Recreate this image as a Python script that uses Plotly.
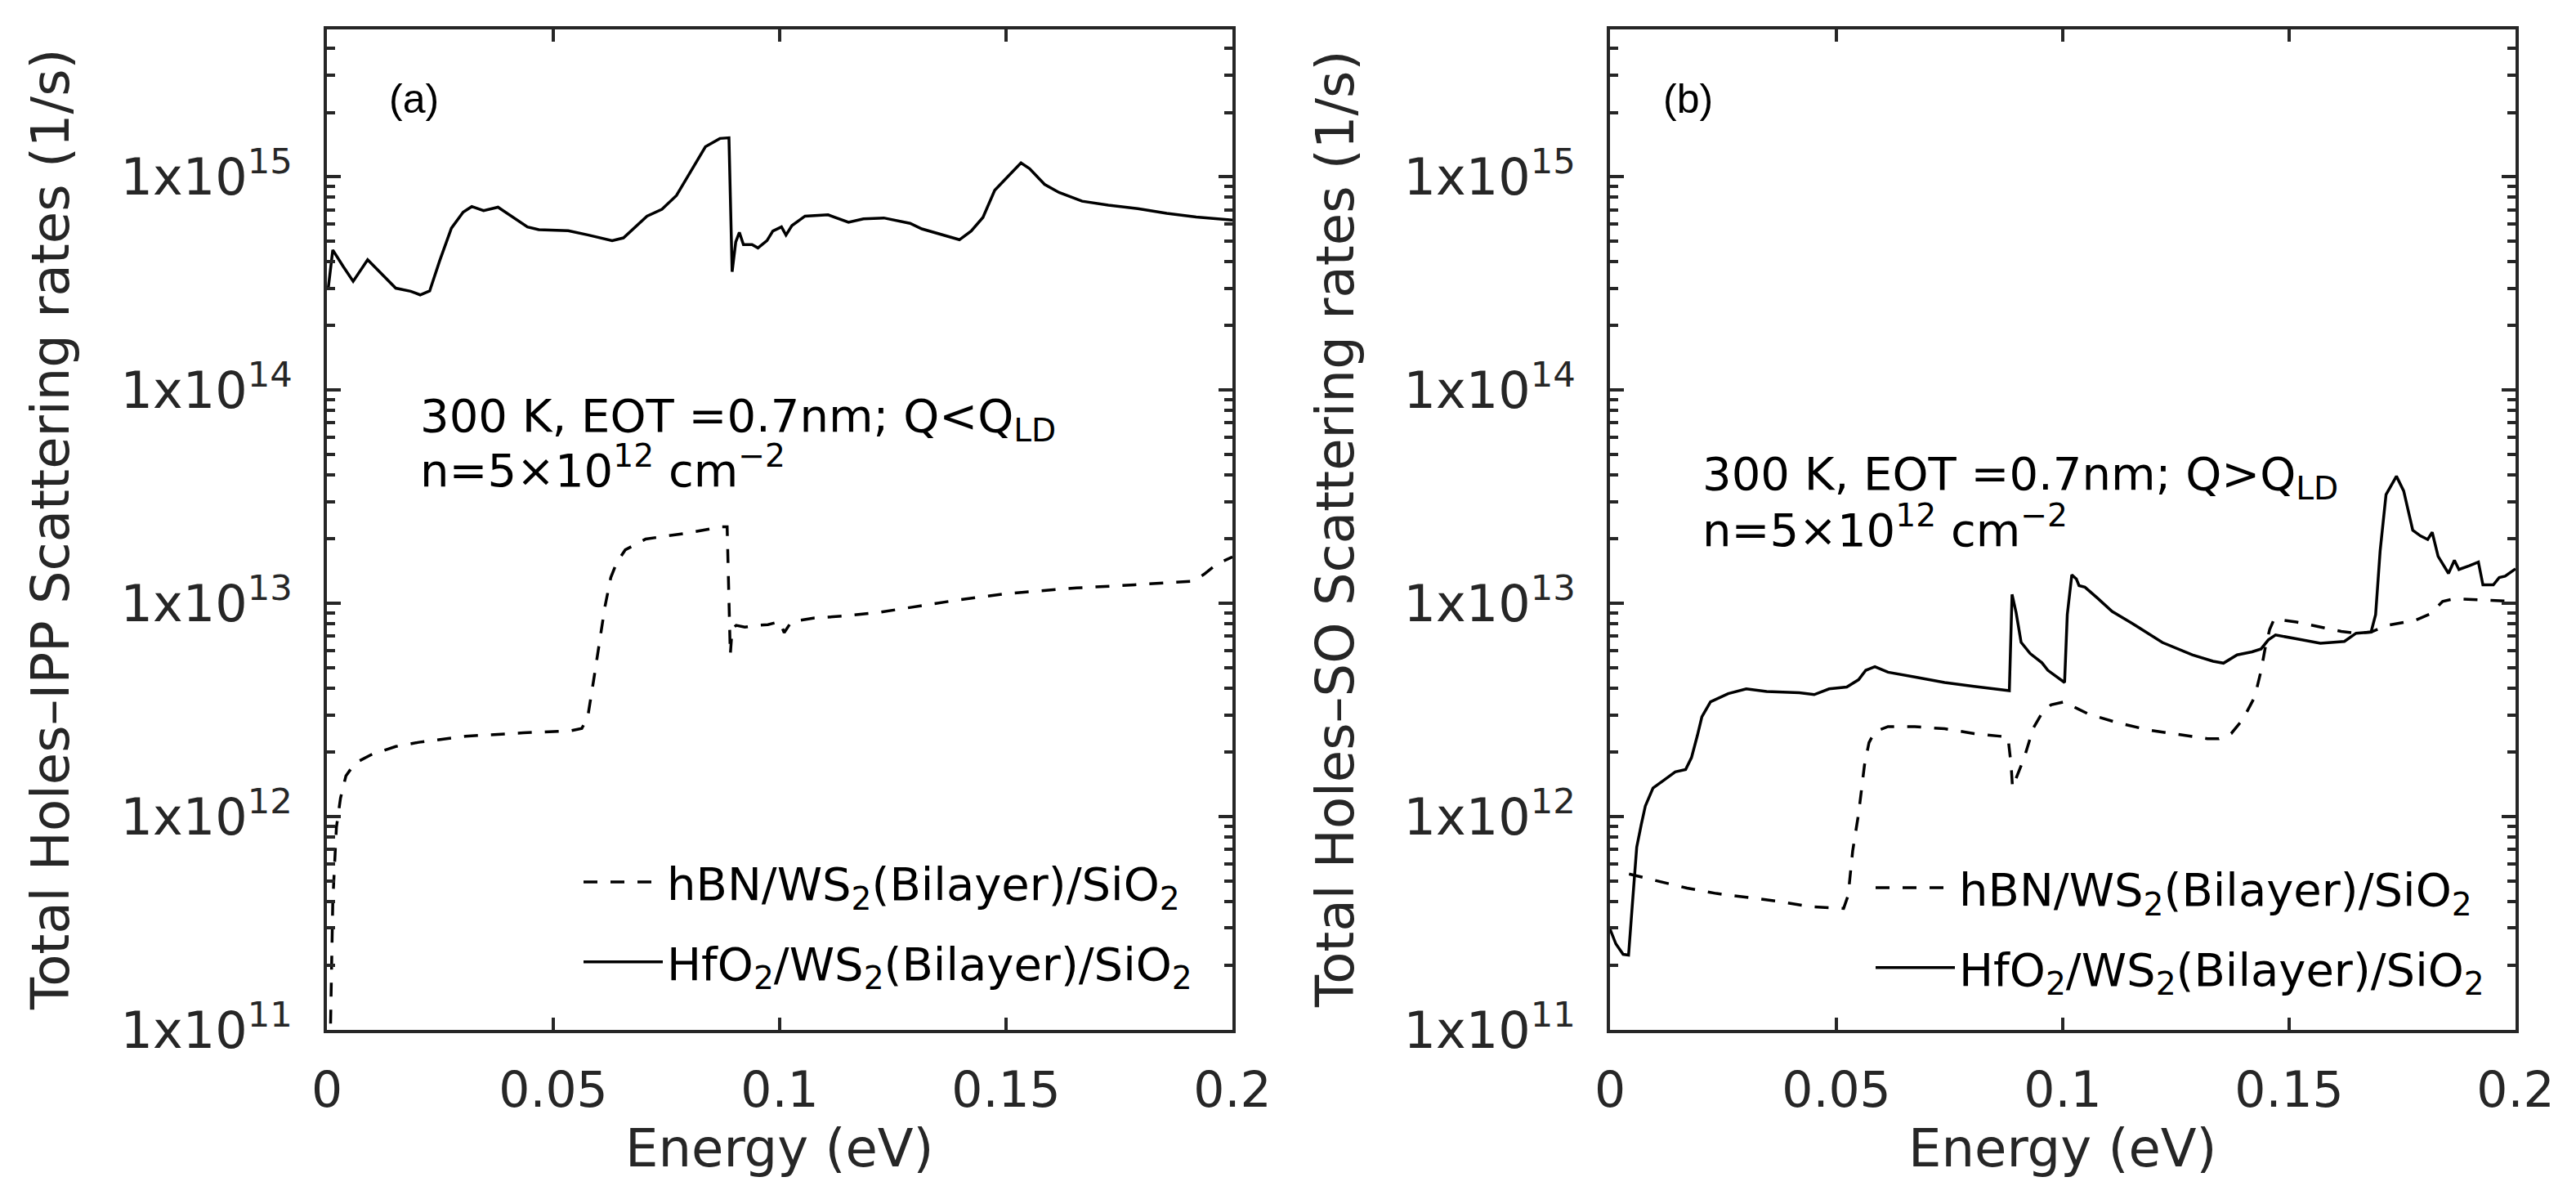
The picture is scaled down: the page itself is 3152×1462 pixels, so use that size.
import plotly.graph_objects as go

# (a) holes - IPP scattering rates (1/s) vs energy (eV)
e_ipp_hfo2 = [0.0003, 0.0013, 0.0036, 0.0058, 0.0090, 0.0114, 0.0152, 0.0185, 0.0206, 0.0227,
              0.0249, 0.0275, 0.0301, 0.0320, 0.0346, 0.0378, 0.0404, 0.0443, 0.0468, 0.0533,
              0.0578, 0.0630, 0.0655, 0.0707, 0.0740, 0.0772, 0.0804, 0.0836, 0.0868, 0.0888,
              0.0895, 0.0903, 0.0911, 0.0920, 0.0939, 0.0952, 0.0972, 0.0985, 0.1004, 0.1014,
              0.1027, 0.1056, 0.1107, 0.1152, 0.1185, 0.1230, 0.1288, 0.1314, 0.1397, 0.1423,
              0.1449, 0.1475, 0.1501, 0.1533, 0.1552, 0.1585, 0.1617, 0.1668, 0.1726, 0.1791,
              0.1855, 0.1920, 0.2000]
r_ipp_hfo2 = [3.00e14, 4.53e14, 3.79e14, 3.23e14, 4.08e14, 3.63e14, 3.00e14, 2.90e14, 2.79e14, 2.91e14,
              4.03e14, 5.73e14, 6.82e14, 7.24e14, 6.93e14, 7.19e14, 6.62e14, 5.81e14, 5.64e14, 5.58e14,
              5.32e14, 5.01e14, 5.16e14, 6.53e14, 7.03e14, 8.15e14, 1.06e15, 1.38e15, 1.51e15, 1.52e15,
              3.58e14, 4.94e14, 5.48e14, 4.80e14, 4.80e14, 4.63e14, 5.01e14, 5.56e14, 5.81e14, 5.32e14,
              5.89e14, 6.53e14, 6.62e14, 6.11e14, 6.34e14, 6.40e14, 6.04e14, 5.69e14, 5.06e14, 5.56e14,
              6.44e14, 8.63e14, 9.86e14, 1.16e15, 1.09e15, 9.20e14, 8.43e14, 7.67e14, 7.35e14, 7.08e14,
              6.73e14, 6.47e14, 6.25e14]

e_ipp_hbn = [0.0007, 0.0013, 0.0021, 0.0030, 0.0042, 0.0062, 0.0100, 0.0152, 0.0203, 0.0306,
             0.0434, 0.0537, 0.0563, 0.0576, 0.0589, 0.0602, 0.0614, 0.0627, 0.0640, 0.0659,
             0.0704, 0.0800, 0.0870, 0.0884, 0.0891, 0.0895, 0.0904, 0.0923, 0.0949, 0.0974,
             0.1000, 0.1010, 0.1026, 0.1077, 0.1141, 0.1219, 0.1270, 0.1399, 0.1501, 0.1656,
             0.1784, 0.1913, 0.1938, 0.1964, 0.2000]
r_ipp_hbn = [0.8e11, 4.0e11, 8.9e11, 1.22e12, 1.55e12, 1.78e12, 1.96e12, 2.13e12, 2.23e12, 2.38e12,
             2.47e12, 2.52e12, 2.59e12, 2.92e12, 4.34e12, 6.46e12, 9.61e12, 1.32e13, 1.55e13, 1.78e13,
             2.00e13, 2.14e13, 2.28e13, 2.28e13, 5.74e12, 7.57e12, 7.88e12, 7.73e12, 7.88e12, 7.94e12,
             8.20e12, 7.28e12, 8.20e12, 8.53e12, 8.71e12, 9.06e12, 9.42e12, 1.04e13, 1.11e13, 1.18e13,
             1.22e13, 1.27e13, 1.37e13, 1.52e13, 1.65e13]

# (b) holes - SO scattering rates (1/s) vs energy (eV)
e_so_hfo2 = [0.0000, 0.0013, 0.0029, 0.0041, 0.0049, 0.0059, 0.0069, 0.0078, 0.0095, 0.0118,
             0.0144, 0.0167, 0.0180, 0.0193, 0.0203, 0.0222, 0.0261, 0.0301, 0.0346, 0.0418,
             0.0451, 0.0484, 0.0523, 0.0549, 0.0565, 0.0585, 0.0614, 0.0673, 0.0739, 0.0804,
             0.0882, 0.0888, 0.0897, 0.0908, 0.0928, 0.0954, 0.0967, 0.1004, 0.1010, 0.1020,
             0.1030, 0.1036, 0.1049, 0.1076, 0.1109, 0.1155, 0.1220, 0.1286, 0.1332, 0.1355,
             0.1385, 0.1418, 0.1438, 0.1454, 0.1470, 0.1516, 0.1569, 0.1622, 0.1648, 0.1681,
             0.1691, 0.1701, 0.1714, 0.1737, 0.1753, 0.1773, 0.1790, 0.1806, 0.1816, 0.1829,
             0.1852, 0.1865, 0.1875, 0.1898, 0.1918, 0.1928, 0.1951, 0.1964, 0.1977, 0.2000]
r_so_hfo2 = [2.97e11, 2.53e11, 2.26e11, 2.24e11, 3.78e11, 7.19e11, 9.16e11, 1.12e12, 1.36e12, 1.48e12,
             1.62e12, 1.66e12, 1.89e12, 2.40e12, 2.94e12, 3.45e12, 3.77e12, 3.97e12, 3.86e12, 3.81e12,
             3.73e12, 3.97e12, 4.05e12, 4.38e12, 4.85e12, 5.04e12, 4.75e12, 4.51e12, 4.25e12, 4.08e12,
             3.89e12, 1.10e13, 9.04e12, 6.56e12, 5.81e12, 5.26e12, 4.85e12, 4.25e12, 8.85e12, 1.36e13,
             1.30e13, 1.21e13, 1.19e13, 1.06e13, 9.15e12, 8.01e12, 6.55e12, 5.73e12, 5.35e12, 5.24e12,
             5.73e12, 5.92e12, 6.11e12, 6.73e12, 7.10e12, 6.81e12, 6.49e12, 6.62e12, 7.24e12, 7.33e12,
             8.85e12, 1.76e13, 3.23e13, 3.94e13, 3.36e13, 2.20e13, 2.07e13, 1.99e13, 2.15e13, 1.66e13,
             1.38e13, 1.59e13, 1.44e13, 1.50e13, 1.56e13, 1.22e13, 1.22e13, 1.32e13, 1.34e13, 1.45e13]

e_so_hbn = [0.0042, 0.0105, 0.0170, 0.0235, 0.0301, 0.0366, 0.0444, 0.0516, 0.0526, 0.0536,
            0.0549, 0.0562, 0.0572, 0.0585, 0.0614, 0.0673, 0.0739, 0.0804, 0.0879, 0.0886,
            0.0889, 0.0899, 0.0915, 0.0935, 0.0954, 0.0974, 0.1003, 0.1013, 0.1056, 0.1122,
            0.1188, 0.1253, 0.1319, 0.1345, 0.1372, 0.1398, 0.1424, 0.1438, 0.1447, 0.1457,
            0.1467, 0.1516, 0.1582, 0.1615, 0.1648, 0.1681, 0.1714, 0.1780, 0.1812, 0.1839,
            0.1865, 0.1911, 0.2000]
r_so_hbn = [5.38e11, 5.01e11, 4.62e11, 4.36e11, 4.18e11, 4.02e11, 3.78e11, 3.71e11, 4.27e11, 6.90e11,
            1.03e12, 1.74e12, 2.22e12, 2.50e12, 2.64e12, 2.64e12, 2.58e12, 2.45e12, 2.36e12, 1.74e12,
            1.37e12, 1.54e12, 1.89e12, 2.60e12, 3.05e12, 3.34e12, 3.45e12, 3.36e12, 3.03e12, 2.75e12,
            2.55e12, 2.43e12, 2.32e12, 2.32e12, 2.45e12, 2.86e12, 3.64e12, 4.83e12, 6.15e12, 7.54e12,
            8.44e12, 8.17e12, 7.60e12, 7.38e12, 7.24e12, 7.33e12, 7.85e12, 8.34e12, 8.93e12, 1.02e13,
            1.05e13, 1.04e13, 1.02e13]

x_ticks = [0, 0.05, 0.1, 0.15, 0.2]
x_tick_text = ["0", "0.05", "0.1", "0.15", "0.2"]
# decade labels written as in the original: 1x10^n
y_labels = {"1e+11": "1x10<sup>11</sup>", "1e+12": "1x10<sup>12</sup>",
            "1e+13": "1x10<sup>13</sup>", "1e+14": "1x10<sup>14</sup>",
            "1e+15": "1x10<sup>15</sup>"}

name_hbn = "hBN/WS<sub>2</sub>(Bilayer)/SiO<sub>2</sub>"
name_hfo2 = "HfO<sub>2</sub>/WS<sub>2</sub>(Bilayer)/SiO<sub>2</sub>"

FONT = "DejaVu Sans"
INK = "#262626"

# page is 3152x1462, body margin 8px -> figure 3136x1446
W, H = 3136, 1446


def fx(p):
    return (p - 8) / W


def fy(p):
    return 1 - (p - 8) / H


fig = go.Figure()

dash = "17px,16px"
fig.add_trace(go.Scatter(x=e_ipp_hbn, y=r_ipp_hbn, mode="lines", name=name_hbn,
                         line=dict(color="black", width=3.5, dash=dash),
                         xaxis="x", yaxis="y", legend="legend", legendgroup="a1"))
fig.add_trace(go.Scatter(x=e_ipp_hfo2, y=r_ipp_hfo2, mode="lines", name=name_hfo2,
                         line=dict(color="black", width=3.5),
                         xaxis="x", yaxis="y", legend="legend", legendgroup="a2"))
fig.add_trace(go.Scatter(x=e_so_hbn, y=r_so_hbn, mode="lines", name=name_hbn,
                         line=dict(color="black", width=3.5, dash=dash),
                         xaxis="x2", yaxis="y2", legend="legend2", legendgroup="b1"))
fig.add_trace(go.Scatter(x=e_so_hfo2, y=r_so_hfo2, mode="lines", name=name_hfo2,
                         line=dict(color="black", width=3.5),
                         xaxis="x2", yaxis="y2", legend="legend2", legendgroup="b2"))

xax = dict(range=[0, 0.2], tickmode="array", tickvals=x_ticks, ticktext=x_tick_text,
           ticks="inside", ticklen=15, tickwidth=4, tickcolor=INK,
           showline=True, linewidth=3.5, linecolor=INK, mirror="ticks",
           showgrid=False, zeroline=False, automargin=False, ticklabelstandoff=18,
           tickfont=dict(family=FONT, size=60, color=INK))
yax = dict(type="log", range=[11, 15.69], domain=[fy(1260), fy(36)],
           tickmode="linear", tick0=0, dtick=1, exponentformat="e", labelalias=y_labels,
           ticks="inside", ticklen=17, tickwidth=4, tickcolor=INK,
           minor=dict(dtick="D1", ticks="inside", ticklen=10, tickwidth=3.5,
                      tickcolor=INK, showgrid=False),
           showline=True, linewidth=3.5, linecolor=INK, mirror="ticks",
           showgrid=False, zeroline=False, automargin=False, ticklabelstandoff=26,
           tickfont=dict(family=FONT, size=62, color=INK))

legend_style = dict(xanchor="left", yanchor="top", bgcolor="rgba(0,0,0,0)",
                    font=dict(family=FONT, size=56, color="black"),
                    itemwidth=97, tracegroupgap=22, traceorder="grouped")

fig.update_layout(
    width=W, height=H,
    margin=dict(l=0, r=0, t=0, b=0),
    paper_bgcolor="white", plot_bgcolor="white",
    xaxis=dict(xax, domain=[fx(400), fx(1508)], anchor="y"),
    yaxis=dict(yax, anchor="x"),
    xaxis2=dict(xax, domain=[fx(1970), fx(3078)], anchor="y2"),
    yaxis2=dict(yax, anchor="x2"),
    legend=dict(legend_style, x=fx(709), y=fy(1036)),
    legend2=dict(legend_style, x=fx(2290), y=fy(1043)),
)

label_font = dict(family=FONT, size=64, color=INK)
text_font = dict(family=FONT, size=56, color="black")
notes = [
    dict(x=fx(62), y=fy(648), text="Total Holes–IPP Scattering rates (1/s)", textangle=-90,
         xanchor="center", yanchor="middle", font=label_font),
    dict(x=fx(1634), y=fy(648), text="Total Holes–SO Scattering rates (1/s)", textangle=-90,
         xanchor="center", yanchor="middle", font=label_font),
    dict(x=fx(954), y=fy(1405), text="Energy (eV)", xanchor="center", yanchor="middle",
         font=label_font),
    dict(x=fx(2524), y=fy(1405), text="Energy (eV)", xanchor="center", yanchor="middle",
         font=label_font),
    dict(x=fx(474), y=fy(121), text="(a)", xanchor="left", yanchor="middle",
         font=dict(family="Liberation Sans", size=50, color="black")),
    dict(x=fx(2033), y=fy(121), text="(b)", xanchor="left", yanchor="middle",
         font=dict(family="Liberation Sans", size=50, color="black")),
    dict(x=fx(512), y=fy(512), text="300 K, EOT =0.7nm; Q&lt;Q<sub>LD</sub>",
         xanchor="left", yanchor="middle", font=text_font),
    dict(x=fx(512), y=fy(572), text="n=5×10<sup>12</sup> cm<sup>−2</sup>",
         xanchor="left", yanchor="middle", font=text_font),
    dict(x=fx(2081), y=fy(584), text="300 K, EOT =0.7nm; Q&gt;Q<sub>LD</sub>",
         xanchor="left", yanchor="middle", font=text_font),
    dict(x=fx(2081), y=fy(644), text="n=5×10<sup>12</sup> cm<sup>−2</sup>",
         xanchor="left", yanchor="middle", font=text_font),
]
for n in notes:
    fig.add_annotation(n, xref="paper", yref="paper", showarrow=False)

fig.write_html("out.html")
